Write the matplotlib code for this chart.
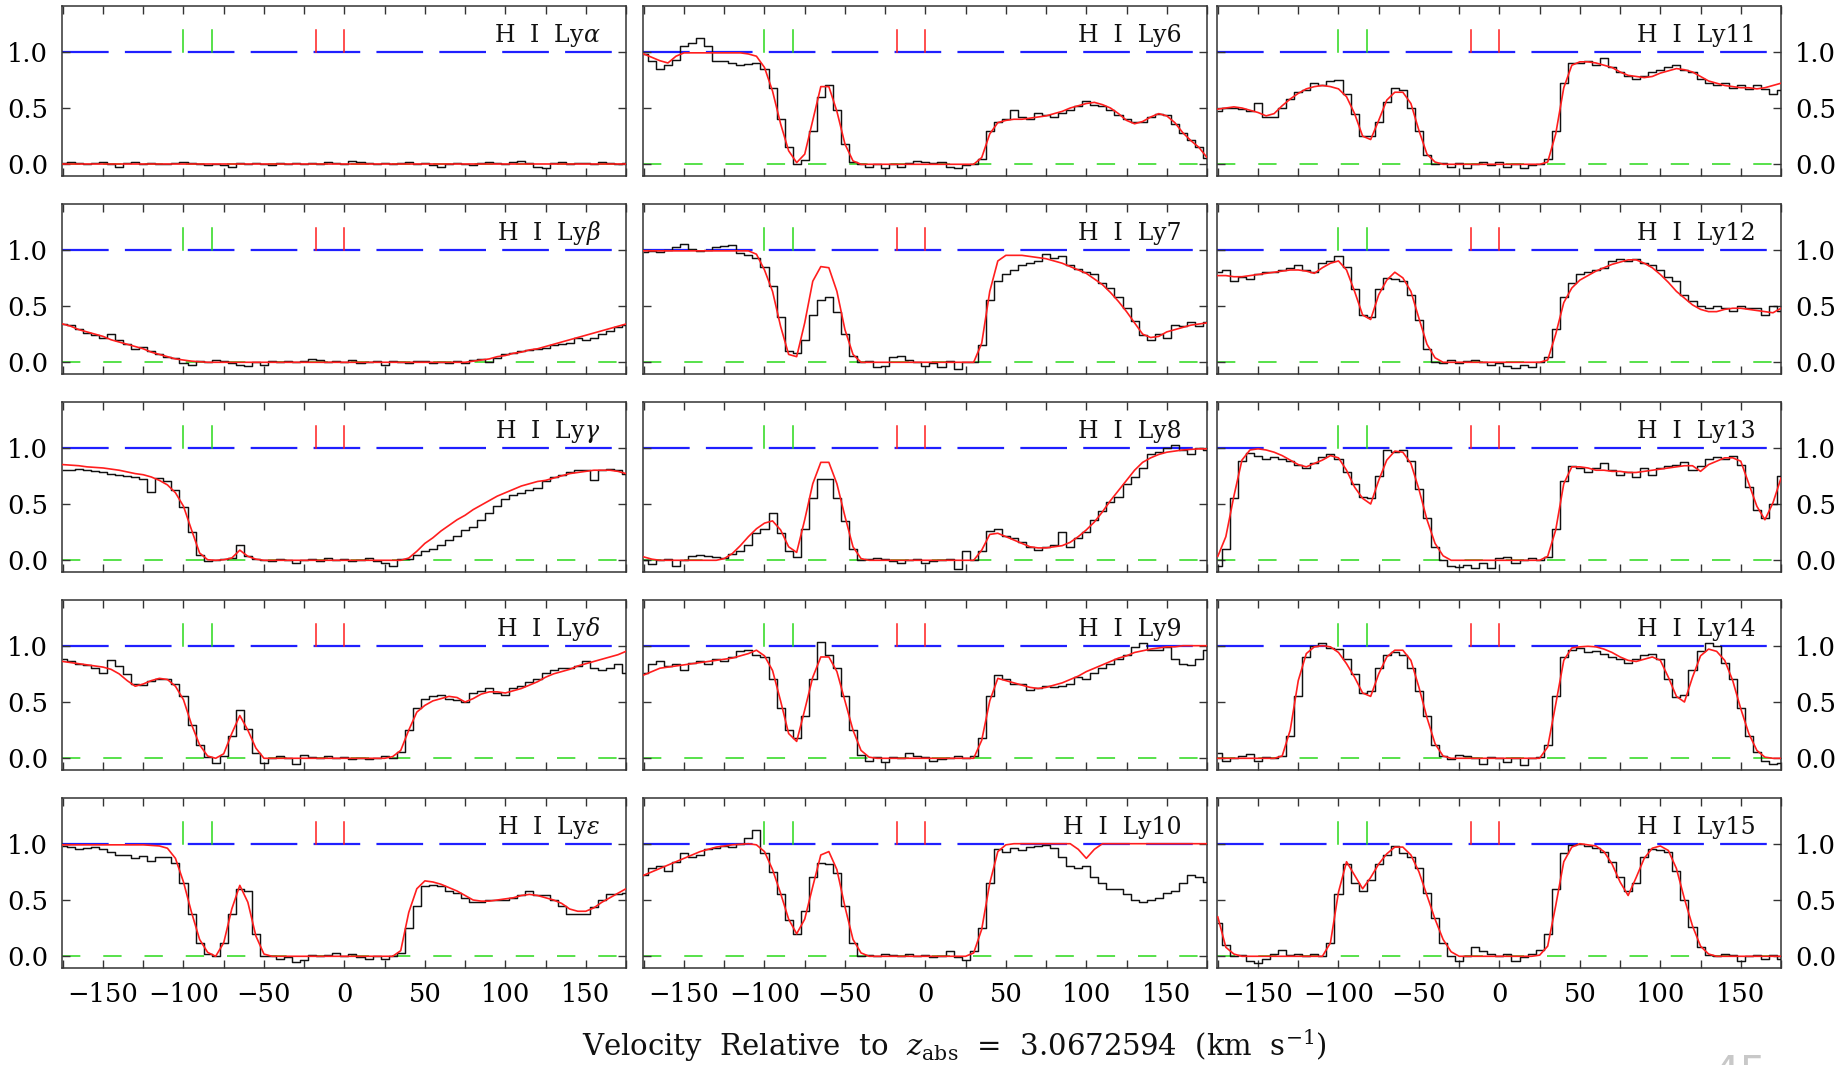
import numpy as np
import matplotlib
matplotlib.use("Agg")
import matplotlib.pyplot as plt

plt.rcParams['font.family'] = ['DejaVu Serif']
plt.rcParams['mathtext.fontset'] = 'dejavuserif'

# ---------------- data ----------------
velocity = np.arange(-175, 176, 5)  # km/s, 71 bins

panel_labels = [r'H  I  Ly$\alpha$', r'H  I  Ly$\beta$', r'H  I  Ly$\gamma$',
                r'H  I  Ly$\delta$', r'H  I  Ly$\epsilon$',
                'H  I  Ly6', 'H  I  Ly7', 'H  I  Ly8', 'H  I  Ly9', 'H  I  Ly10',
                'H  I  Ly11', 'H  I  Ly12', 'H  I  Ly13', 'H  I  Ly14', 'H  I  Ly15']

green_marks = [-100, -82.5]
red_marks = [-17.5, 0]

x_ticks = [-150, -100, -50, 0, 50, 100, 150]
y_ticks = [0.0, 0.5, 1.0]

flux_lya = [0.01, 0.02, 0.01, 0.0, 0.01, 0.02, 0.0, -0.02, 0.01, 0.02,
            0.0, 0.01, 0.0, 0.0, 0.01, 0.02, 0.01, 0.0, -0.01, 0.0,
            -0.01, -0.02, 0.01, 0.0, 0.01, 0.0, -0.01, 0.01, 0.0, 0.01,
            0.0, 0.01, 0.0, 0.02, 0.01, 0.0, 0.03, 0.02, 0.01, 0.0,
            0.01, 0.0, 0.01, 0.02, 0.0, 0.01, -0.01, -0.02, 0.0, 0.01,
            0.0, -0.01, 0.01, 0.02, 0.01, 0.0, 0.02, 0.03, 0.01, -0.02,
            -0.03, 0.01, 0.02, 0.0, 0.01, 0.01, 0.0, 0.02, 0.01, 0.0,
            0.01]
model_lya = [0.0, 0.0, 0.0, 0.0, 0.0, 0.0, 0.0, 0.0, 0.0, 0.0,
             0.0, 0.0, 0.0, 0.0, 0.0, 0.0, 0.0, 0.0, 0.0, 0.0,
             0.0, 0.0, 0.0, 0.0, 0.0, 0.0, 0.0, 0.0, 0.0, 0.0,
             0.0, 0.0, 0.0, 0.0, 0.0, 0.0, 0.0, 0.0, 0.0, 0.0,
             0.0, 0.0, 0.0, 0.0, 0.0, 0.0, 0.0, 0.0, 0.0, 0.0,
             0.0, 0.0, 0.0, 0.0, 0.0, 0.0, 0.0, 0.0, 0.0, 0.0,
             0.0, 0.0, 0.0, 0.0, 0.0, 0.0, 0.0, 0.0, 0.0, 0.0,
             0.0]

flux_lyb = [0.34, 0.33, 0.30, 0.26, 0.24, 0.22, 0.25, 0.20, 0.16, 0.12,
            0.14, 0.10, 0.07, 0.05, 0.04, -0.01, -0.02, 0.01, 0.0, 0.02,
            0.01, -0.01, -0.02, -0.03, 0.0, -0.02, 0.01, 0.0, 0.01, 0.0,
            0.01, 0.03, 0.02, 0.0, 0.01, 0.0, 0.02, -0.01, 0.0, 0.01,
            -0.02, 0.01, 0.0, -0.01, 0.01, 0.01, -0.01, 0.0, -0.01, 0.01,
            -0.01, 0.02, 0.03, 0.0, 0.04, 0.07, 0.08, 0.10, 0.11, 0.12,
            0.13, 0.15, 0.16, 0.17, 0.22, 0.20, 0.22, 0.25, 0.28, 0.31,
            0.33]
model_lyb = [0.34, 0.32, 0.29, 0.27, 0.25, 0.23, 0.20, 0.18, 0.16, 0.14,
             0.12, 0.09, 0.07, 0.05, 0.03, 0.02, 0.01, 0.005, 0.0, 0.0,
             0.0, 0.0, 0.0, 0.0, 0.0, 0.0, 0.0, 0.0, 0.0, 0.0,
             0.0, 0.0, 0.0, 0.0, 0.0, 0.0, 0.0, 0.0, 0.0, 0.0,
             0.0, 0.0, 0.0, 0.0, 0.0, 0.0, 0.0, 0.0, 0.0, 0.0,
             0.0, 0.01, 0.02, 0.03, 0.05, 0.06, 0.08, 0.09, 0.11, 0.12,
             0.14, 0.16, 0.18, 0.20, 0.22, 0.24, 0.26, 0.28, 0.30, 0.32,
             0.34]

flux_lyg = [0.80, 0.80, 0.81, 0.80, 0.79, 0.78, 0.77, 0.76, 0.75, 0.74,
            0.72, 0.61, 0.73, 0.70, 0.62, 0.47, 0.25, 0.05, -0.01, 0.0,
            0.01, 0.02, 0.14, 0.04, 0.01, 0.0, -0.01, 0.01, 0.0, -0.02,
            0.0, 0.01, -0.01, 0.02, 0.0, 0.01, -0.01, 0.0, 0.02, -0.01,
            -0.02, -0.05, 0.01, 0.01, 0.05, 0.08, 0.10, 0.14, 0.18, 0.22,
            0.27, 0.30, 0.36, 0.42, 0.48, 0.54, 0.58, 0.60, 0.62, 0.64,
            0.70, 0.74, 0.76, 0.78, 0.80, 0.80, 0.71, 0.80, 0.81, 0.80,
            0.77]
model_lyg = [0.85, 0.845, 0.84, 0.83, 0.825, 0.82, 0.81, 0.80, 0.785, 0.77,
             0.76, 0.74, 0.71, 0.67, 0.60, 0.48, 0.27, 0.065, 0.005, 0.0,
             0.005, 0.02, 0.09, 0.035, 0.01, 0.0, 0.0, 0.0, 0.0, 0.0,
             0.0, 0.0, 0.0, 0.0, 0.0, 0.0, 0.0, 0.0, 0.0, 0.0,
             0.0, 0.0, 0.0, 0.02, 0.08, 0.15, 0.20, 0.26, 0.31, 0.36,
             0.40, 0.45, 0.49, 0.53, 0.57, 0.60, 0.63, 0.66, 0.68, 0.70,
             0.71, 0.73, 0.75, 0.77, 0.78, 0.79, 0.80, 0.80, 0.80, 0.79,
             0.77]

flux_lyd = [0.88, 0.86, 0.84, 0.83, 0.80, 0.76, 0.87, 0.82, 0.75, 0.66,
            0.65, 0.69, 0.70, 0.70, 0.66, 0.55, 0.30, 0.12, 0.01, -0.04,
            0.02, 0.20, 0.43, 0.26, 0.05, -0.04, 0.0, 0.02, 0.0, -0.05,
            0.03, 0.01, 0.0, 0.02, 0.0, 0.01, -0.01, 0.0, -0.01, 0.0,
            0.02, 0.0, 0.06, 0.25, 0.45, 0.53, 0.55, 0.56, 0.53, 0.52,
            0.50, 0.58, 0.60, 0.62, 0.58, 0.56, 0.62, 0.64, 0.68, 0.70,
            0.76, 0.78, 0.80, 0.80, 0.82, 0.86, 0.80, 0.78, 0.80, 0.84,
            0.76]
model_lyd = [0.86, 0.85, 0.84, 0.83, 0.82, 0.81, 0.79, 0.75, 0.69, 0.64,
             0.66, 0.69, 0.71, 0.70, 0.64, 0.52, 0.30, 0.12, 0.02, 0.0,
             0.04, 0.22, 0.38, 0.25, 0.09, 0.0, 0.0, 0.0, 0.0, 0.0,
             0.0, 0.0, 0.0, 0.0, 0.0, 0.0, 0.0, 0.0, 0.0, 0.0,
             0.0, 0.015, 0.07, 0.25, 0.41, 0.47, 0.51, 0.53, 0.55, 0.54,
             0.50, 0.53, 0.57, 0.59, 0.59, 0.58, 0.60, 0.62, 0.65, 0.68,
             0.72, 0.75, 0.77, 0.79, 0.82, 0.84, 0.86, 0.88, 0.90, 0.92,
             0.95]

flux_lye = [0.98, 0.97, 0.95, 0.96, 0.97, 0.95, 0.93, 0.90, 0.90, 0.87,
            0.89, 0.85, 0.88, 0.88, 0.83, 0.65, 0.38, 0.12, 0.02, 0.0,
            0.12, 0.38, 0.60, 0.58, 0.20, 0.0, 0.0, -0.02, -0.01, -0.05,
            -0.03, 0.01, 0.0, 0.01, 0.03, 0.0, 0.02, -0.01, -0.02, 0.0,
            -0.02, 0.0, 0.03, 0.25, 0.45, 0.62, 0.63, 0.62, 0.58, 0.56,
            0.52, 0.48, 0.48, 0.50, 0.50, 0.50, 0.52, 0.54, 0.58, 0.54,
            0.54, 0.50, 0.45, 0.38, 0.38, 0.38, 0.44, 0.50, 0.55, 0.55,
            0.56]
model_lye = [0.99, 0.99, 0.99, 0.99, 0.99, 0.99, 0.99, 0.99, 0.99, 0.99,
             0.99, 0.985, 0.98, 0.96, 0.87, 0.66, 0.39, 0.15, 0.035, 0.0,
             0.12, 0.42, 0.63, 0.48, 0.18, 0.02, 0.0, 0.0, 0.0, 0.0,
             0.0, 0.0, 0.0, 0.0, 0.0, 0.0, 0.0, 0.0, 0.0, 0.0,
             0.0, 0.0, 0.05, 0.39, 0.60, 0.67, 0.66, 0.64, 0.61, 0.58,
             0.54, 0.50, 0.49, 0.49, 0.50, 0.51, 0.52, 0.54, 0.55, 0.54,
             0.52, 0.50, 0.47, 0.42, 0.40, 0.40, 0.43, 0.48, 0.52, 0.56,
             0.60]

flux_ly6 = [0.98, 0.92, 0.85, 0.88, 0.93, 1.05, 1.08, 1.12, 1.05, 0.92,
            0.92, 0.90, 0.88, 0.89, 0.90, 0.85, 0.68, 0.40, 0.15, 0.0,
            0.04, 0.30, 0.60, 0.70, 0.48, 0.18, 0.02, 0.0, -0.02, 0.0,
            -0.03, 0.0, -0.02, 0.01, 0.03, 0.02, 0.01, 0.02, -0.02, -0.03,
            -0.01, 0.0, 0.05, 0.30, 0.38, 0.40, 0.48, 0.42, 0.40, 0.46,
            0.44, 0.42, 0.46, 0.48, 0.52, 0.56, 0.53, 0.52, 0.48, 0.44,
            0.40, 0.38, 0.38, 0.42, 0.45, 0.44, 0.36, 0.28, 0.22, 0.15,
            0.06]
model_ly6 = [0.98, 0.95, 0.92, 0.90, 0.96, 0.99, 0.99, 0.99, 0.99, 0.99,
             0.99, 0.99, 0.99, 0.98, 0.96, 0.86, 0.65, 0.36, 0.12, 0.015,
             0.09, 0.39, 0.69, 0.69, 0.47, 0.18, 0.03, 0.0, 0.0, 0.0,
             0.0, 0.0, 0.0, 0.0, 0.0, 0.0, 0.0, 0.0, 0.0, 0.0,
             0.0, 0.0, 0.06, 0.27, 0.37, 0.39, 0.40, 0.40, 0.41, 0.42,
             0.43, 0.45, 0.47, 0.50, 0.52, 0.54, 0.55, 0.53, 0.50, 0.45,
             0.39, 0.36, 0.38, 0.42, 0.45, 0.43, 0.37, 0.28, 0.21, 0.15,
             0.06]

flux_ly7 = [0.98, 0.99, 0.98, 1.0, 1.02, 1.05, 1.01, 0.99, 1.0, 1.02,
            1.03, 1.04, 0.97, 0.95, 0.93, 0.85, 0.68, 0.40, 0.10, 0.08,
            0.20, 0.42, 0.55, 0.58, 0.45, 0.25, 0.06, 0.0, 0.01, -0.04,
            -0.03, 0.05, 0.06, 0.02, 0.0, -0.03, -0.01, -0.04, 0.01, -0.06,
            0.0, 0.0, 0.15, 0.55, 0.72, 0.78, 0.82, 0.86, 0.88, 0.90,
            0.96, 0.93, 0.94, 0.86, 0.83, 0.80, 0.78, 0.70, 0.66, 0.58,
            0.48, 0.37, 0.24, 0.20, 0.25, 0.22, 0.33, 0.32, 0.36, 0.32,
            0.36]
model_ly7 = [0.99, 0.99, 0.99, 0.99, 0.99, 0.99, 0.99, 0.99, 0.99, 0.99,
             0.99, 0.99, 0.99, 0.99, 0.96, 0.82, 0.63, 0.32, 0.07, 0.05,
             0.35, 0.72, 0.85, 0.84, 0.63, 0.29, 0.07, 0.0, 0.0, 0.0,
             0.0, 0.0, 0.0, 0.0, 0.0, 0.0, 0.0, 0.0, 0.0, 0.0,
             0.0, 0.0, 0.17, 0.63, 0.90, 0.95, 0.95, 0.95, 0.94, 0.93,
             0.92, 0.90, 0.88, 0.85, 0.82, 0.79, 0.74, 0.69, 0.62, 0.54,
             0.45, 0.35, 0.25, 0.22, 0.23, 0.27, 0.29, 0.31, 0.33, 0.34,
             0.35]

flux_ly8 = [0.0, -0.03, 0.0, 0.01, -0.05, 0.0, 0.04, 0.05, 0.04, 0.03,
            0.02, 0.06, 0.08, 0.14, 0.24, 0.28, 0.42, 0.24, 0.08, 0.03,
            0.28, 0.55, 0.72, 0.72, 0.55, 0.35, 0.10, 0.0, 0.01, 0.02,
            0.01, -0.01, -0.02, 0.0, 0.01, -0.02, -0.01, 0.0, 0.01, -0.08,
            0.08, 0.0, 0.08, 0.26, 0.28, 0.22, 0.20, 0.16, 0.12, 0.09,
            0.12, 0.14, 0.25, 0.12, 0.20, 0.25, 0.36, 0.44, 0.52, 0.56,
            0.68, 0.74, 0.82, 0.94, 0.96, 1.0, 1.02, 0.98, 0.94, 1.0,
            0.98]
model_ly8 = [0.03, 0.01, 0.0, 0.0, 0.0, 0.0, 0.0, 0.0, 0.0, 0.0,
             0.015, 0.06, 0.13, 0.21, 0.28, 0.33, 0.35, 0.27, 0.12, 0.07,
             0.36, 0.68, 0.87, 0.87, 0.68, 0.39, 0.12, 0.015, 0.0, 0.0,
             0.0, 0.0, 0.0, 0.0, 0.0, 0.0, 0.0, 0.0, 0.0, 0.0,
             0.0, 0.0, 0.09, 0.23, 0.24, 0.21, 0.18, 0.15, 0.12, 0.11,
             0.11, 0.12, 0.13, 0.16, 0.21, 0.27, 0.34, 0.43, 0.53, 0.62,
             0.71, 0.80, 0.87, 0.91, 0.94, 0.96, 0.97, 0.98, 0.985, 0.99,
             0.99]

flux_ly9 = [0.76, 0.84, 0.86, 0.82, 0.84, 0.78, 0.85, 0.86, 0.84, 0.88,
            0.86, 0.90, 0.95, 0.96, 0.92, 0.90, 0.70, 0.45, 0.25, 0.18,
            0.38, 0.70, 1.03, 0.92, 0.80, 0.55, 0.25, 0.03, -0.02, 0.01,
            -0.03, 0.01, 0.0, 0.05, 0.02, 0.01, -0.02, -0.01, 0.0, 0.02,
            0.0, 0.02, 0.18, 0.55, 0.74, 0.70, 0.66, 0.66, 0.61, 0.62,
            0.64, 0.63, 0.64, 0.66, 0.72, 0.70, 0.76, 0.80, 0.84, 0.88,
            0.92, 0.99, 1.02, 0.96, 0.96, 0.99, 0.88, 0.84, 0.83, 0.88,
            0.96]
model_ly9 = [0.74, 0.77, 0.80, 0.81, 0.82, 0.83, 0.84, 0.85, 0.86, 0.87,
             0.88, 0.89, 0.91, 0.93, 0.96, 0.91, 0.78, 0.51, 0.22, 0.15,
             0.43, 0.72, 0.90, 0.90, 0.77, 0.51, 0.25, 0.07, 0.01, 0.0,
             0.0, 0.0, 0.0, 0.0, 0.0, 0.0, 0.0, 0.0, 0.0, 0.0,
             0.0, 0.0, 0.16, 0.51, 0.71, 0.69, 0.67, 0.65, 0.63, 0.62,
             0.63, 0.65, 0.67, 0.70, 0.73, 0.77, 0.80, 0.83, 0.86, 0.89,
             0.91, 0.94, 0.955, 0.97, 0.98, 0.99, 0.99, 1.0, 1.0, 1.0,
             1.0]

flux_ly10 = [0.72, 0.78, 0.80, 0.76, 0.84, 0.92, 0.88, 0.90, 0.95, 0.96,
             0.98, 0.97, 1.0, 1.05, 1.12, 0.92, 0.75, 0.55, 0.32, 0.20,
             0.40, 0.70, 0.83, 0.82, 0.74, 0.45, 0.12, 0.0, 0.01, 0.0,
             0.02, 0.01, 0.0, 0.02, 0.0, 0.01, -0.01, 0.0, 0.05, -0.01,
             -0.03, 0.05, 0.25, 0.65, 0.95, 0.93, 0.96, 0.94, 0.97, 0.98,
             0.99, 0.96, 0.88, 0.80, 0.78, 0.80, 0.70, 0.65, 0.60, 0.60,
             0.55, 0.50, 0.48, 0.50, 0.52, 0.56, 0.58, 0.65, 0.72, 0.70,
             0.66]
model_ly10 = [0.72, 0.75, 0.78, 0.81, 0.84, 0.87, 0.90, 0.93, 0.95, 0.97,
              0.98, 0.99, 0.995, 1.0, 0.99, 0.93, 0.77, 0.56, 0.33, 0.20,
              0.33, 0.62, 0.90, 0.93, 0.77, 0.44, 0.15, 0.03, 0.0, 0.0,
              0.0, 0.0, 0.0, 0.0, 0.0, 0.0, 0.0, 0.0, 0.0, 0.0,
              0.0, 0.03, 0.24, 0.65, 0.93, 0.99, 1.0, 1.0, 1.0, 1.0,
              1.0, 1.0, 1.0, 1.0, 0.95, 0.87, 0.95, 1.0, 1.0, 1.0,
              1.0, 1.0, 1.0, 1.0, 1.0, 1.0, 1.0, 1.0, 1.0, 1.0,
              1.0]

flux_ly11 = [0.47, 0.50, 0.50, 0.49, 0.47, 0.54, 0.42, 0.42, 0.50, 0.58,
             0.64, 0.66, 0.72, 0.70, 0.74, 0.75, 0.62, 0.45, 0.25, 0.25,
             0.38, 0.55, 0.68, 0.66, 0.50, 0.30, 0.08, 0.0, 0.01, -0.02,
             0.01, -0.03, 0.0, 0.02, -0.01, 0.02, -0.02, 0.0, -0.03, -0.01,
             0.0, 0.05, 0.30, 0.72, 0.90, 0.90, 0.92, 0.88, 0.94, 0.86,
             0.82, 0.78, 0.76, 0.78, 0.82, 0.84, 0.86, 0.88, 0.84, 0.82,
             0.76, 0.72, 0.70, 0.72, 0.68, 0.70, 0.67, 0.70, 0.67, 0.62,
             0.66]
model_ly11 = [0.49, 0.50, 0.51, 0.50, 0.48, 0.46, 0.43, 0.45, 0.52, 0.58,
              0.63, 0.67, 0.69, 0.70, 0.69, 0.67, 0.60, 0.45, 0.25, 0.22,
              0.39, 0.57, 0.64, 0.64, 0.54, 0.30, 0.09, 0.02, 0.0, 0.0,
              0.0, 0.0, 0.0, 0.0, 0.0, 0.0, 0.0, 0.0, 0.0, 0.0,
              0.0, 0.02, 0.27, 0.68, 0.88, 0.91, 0.91, 0.90, 0.88, 0.86,
              0.82, 0.79, 0.78, 0.77, 0.78, 0.81, 0.83, 0.85, 0.84, 0.82,
              0.78, 0.74, 0.72, 0.70, 0.69, 0.68, 0.68, 0.67, 0.68, 0.70,
              0.72]

flux_ly12 = [0.80, 0.82, 0.72, 0.76, 0.74, 0.78, 0.80, 0.80, 0.82, 0.84,
             0.86, 0.82, 0.80, 0.88, 0.90, 0.94, 0.85, 0.65, 0.42, 0.40,
             0.65, 0.75, 0.74, 0.72, 0.60, 0.38, 0.12, 0.0, -0.01, 0.02,
             -0.01, 0.01, 0.02, 0.0, -0.02, -0.01, -0.03, -0.05, -0.02, -0.04,
             0.0, 0.05, 0.30, 0.58, 0.70, 0.78, 0.80, 0.82, 0.84, 0.90,
             0.92, 0.90, 0.92, 0.88, 0.86, 0.82, 0.76, 0.72, 0.60, 0.54,
             0.50, 0.48, 0.50, 0.48, 0.46, 0.50, 0.48, 0.48, 0.42, 0.50,
             0.46]
model_ly12 = [0.77, 0.77, 0.76, 0.76, 0.77, 0.78, 0.79, 0.80, 0.81, 0.82,
              0.82, 0.81, 0.79, 0.84, 0.88, 0.90, 0.82, 0.63, 0.42, 0.38,
              0.60, 0.73, 0.80, 0.75, 0.63, 0.39, 0.16, 0.04, 0.0, 0.0,
              0.0, 0.0, 0.0, 0.0, 0.0, 0.0, 0.0, 0.0, 0.0, 0.0,
              0.0, 0.02, 0.25, 0.53, 0.66, 0.73, 0.77, 0.81, 0.84, 0.87,
              0.89, 0.91, 0.91, 0.88, 0.84, 0.78, 0.71, 0.63, 0.57, 0.51,
              0.47, 0.45, 0.45, 0.47, 0.48, 0.48, 0.47, 0.46, 0.45, 0.44,
              0.48]

flux_ly13 = [-0.05, 0.10, 0.55, 0.88, 0.95, 0.93, 0.90, 0.92, 0.90, 0.88,
             0.85, 0.82, 0.86, 0.92, 0.94, 0.90, 0.78, 0.68, 0.56, 0.55,
             0.75, 0.98, 0.96, 0.98, 0.88, 0.63, 0.38, 0.12, 0.0, -0.05,
             -0.06, -0.04, -0.07, -0.02, -0.07, 0.02, 0.03, -0.02, 0.0, 0.02,
             0.0, 0.03, 0.28, 0.70, 0.84, 0.82, 0.78, 0.82, 0.86, 0.80,
             0.76, 0.78, 0.74, 0.82, 0.76, 0.82, 0.84, 0.85, 0.87, 0.80,
             0.84, 0.90, 0.92, 0.90, 0.93, 0.85, 0.65, 0.45, 0.38, 0.50,
             0.75]
model_ly13 = [0.035, 0.21, 0.57, 0.89, 0.98, 0.99, 0.98, 0.96, 0.93, 0.89,
              0.85, 0.83, 0.86, 0.89, 0.93, 0.91, 0.80, 0.65, 0.55, 0.50,
              0.71, 0.89, 0.97, 0.96, 0.86, 0.63, 0.36, 0.15, 0.04, 0.0,
              0.0, 0.0, 0.0, 0.0, 0.0, 0.0, 0.0, 0.0, 0.0, 0.0,
              0.0, 0.035, 0.27, 0.68, 0.83, 0.83, 0.82, 0.80, 0.80, 0.79,
              0.79, 0.78, 0.78, 0.79, 0.80, 0.81, 0.82, 0.83, 0.84, 0.84,
              0.79, 0.85, 0.88, 0.91, 0.91, 0.88, 0.68, 0.48, 0.36, 0.51,
              0.73]

flux_ly14 = [0.05, -0.02, 0.0, 0.02, 0.04, -0.02, 0.01, 0.0, 0.02, 0.20,
             0.55, 0.90, 1.0, 1.02, 0.98, 0.97, 0.88, 0.75, 0.58, 0.60,
             0.80, 0.92, 0.94, 0.92, 0.80, 0.60, 0.38, 0.12, 0.02, -0.01,
             0.03, 0.02, 0.0, -0.05, 0.01, 0.0, -0.03, 0.0, -0.06, 0.0,
             0.01, 0.12, 0.55, 0.90, 0.96, 0.98, 0.94, 0.95, 0.93, 0.90,
             0.88, 0.85, 0.88, 0.92, 0.93, 0.88, 0.70, 0.54, 0.56, 0.78,
             0.95, 1.02, 1.0, 0.85, 0.70, 0.45, 0.20, 0.06, -0.02, -0.05,
             -0.04]
model_ly14 = [0.0, 0.0, 0.0, 0.0, 0.0, 0.0, 0.0, 0.0, 0.02, 0.25,
              0.69, 0.93, 0.99, 1.0, 0.99, 0.94, 0.84, 0.72, 0.58, 0.55,
              0.75, 0.90, 0.96, 0.96, 0.87, 0.63, 0.36, 0.13, 0.02, 0.0,
              0.0, 0.0, 0.0, 0.0, 0.0, 0.0, 0.0, 0.0, 0.0, 0.0,
              0.0, 0.10, 0.48, 0.87, 0.98, 0.99, 0.995, 0.99, 0.97, 0.94,
              0.90, 0.87, 0.86, 0.88, 0.90, 0.87, 0.72, 0.55, 0.50, 0.72,
              0.91, 0.97, 0.95, 0.87, 0.69, 0.44, 0.22, 0.07, 0.01, 0.0,
              0.0]

flux_ly15 = [0.30, 0.10, 0.0, 0.01, -0.04, -0.06, -0.02, 0.02, 0.06, 0.01,
             0.02, 0.0, 0.02, 0.0, 0.12, 0.55, 0.82, 0.65, 0.58, 0.68,
             0.82, 0.90, 0.98, 0.92, 0.88, 0.78, 0.56, 0.34, 0.12, 0.0,
             -0.04, 0.0, 0.08, 0.05, 0.02, 0.0, 0.02, -0.04, -0.01, 0.02,
             0.06, 0.20, 0.60, 0.92, 0.99, 1.0, 0.98, 0.96, 0.93, 0.84,
             0.70, 0.58, 0.65, 0.88, 0.95, 0.94, 0.93, 0.76, 0.50, 0.26,
             0.08, 0.01, 0.0, 0.02, 0.01, -0.04, 0.0, 0.01, -0.02, 0.01,
             -0.02]
model_ly15 = [0.35, 0.08, 0.02, 0.0, 0.0, 0.0, 0.0, 0.0, 0.0, 0.0,
              0.0, 0.0, 0.0, 0.0, 0.12, 0.57, 0.84, 0.72, 0.60, 0.70,
              0.82, 0.91, 0.97, 0.97, 0.90, 0.75, 0.54, 0.33, 0.15, 0.04,
              0.0, 0.0, 0.0, 0.0, 0.0, 0.0, 0.0, 0.0, 0.0, 0.0,
              0.01, 0.09, 0.45, 0.84, 0.97, 1.0, 0.99, 0.98, 0.93, 0.82,
              0.66, 0.54, 0.70, 0.87, 0.96, 0.98, 0.94, 0.78, 0.51, 0.27,
              0.09, 0.02, 0.0, 0.0, 0.0, 0.0, 0.0, 0.0, 0.0, 0.0,
              0.0]

fluxes = [flux_lya, flux_lyb, flux_lyg, flux_lyd, flux_lye,
          flux_ly6, flux_ly7, flux_ly8, flux_ly9, flux_ly10,
          flux_ly11, flux_ly12, flux_ly13, flux_ly14, flux_ly15]
models = [model_lya, model_lyb, model_lyg, model_lyd, model_lye,
          model_ly6, model_ly7, model_ly8, model_ly9, model_ly10,
          model_ly11, model_ly12, model_ly13, model_ly14, model_ly15]

for f, m, lab in zip(fluxes, models, panel_labels):
    assert len(f) == len(velocity), (lab, 'flux', len(f))
    assert len(m) == len(velocity), (lab, 'model', len(m))

# ---------------- figure ----------------
W, H = 1842, 1065
fig = plt.figure(figsize=(W / 100, H / 100), dpi=100)

col_left_px = [62, 643, 1217]
row_top_px = [6, 204, 402, 600, 798]
panel_w_px, panel_h_px = 564, 170

BLUE = '#1f1fff'
GREEN = '#2ad81a'
RED = '#ff1e1e'

for idx in range(15):
    col, row = divmod(idx, 5)
    left = col_left_px[col] / W
    bottom = 1 - (row_top_px[row] + panel_h_px) / H
    ax = fig.add_axes([left, bottom, panel_w_px / W, panel_h_px / H])

    ax.axhline(1.0, color=BLUE, lw=1.6, ls=(0, (21, 7.3)), zorder=1)
    ax.axhline(0.0, color=GREEN, lw=1.1, ls=(0, (12, 15)), zorder=1)
    for g in green_marks:
        ax.plot([g, g], [1.0, 1.19], color=GREEN, lw=1.1, zorder=2)
    for r in red_marks:
        ax.plot([r, r], [1.0, 1.19], color=RED, lw=1.1, zorder=2)

    ax.step(velocity, fluxes[idx], where='mid', color='#111111', lw=1.05, zorder=3)
    ax.plot(velocity, models[idx], color=RED, lw=1.2, zorder=4)

    ax.text(159, 1.085, panel_labels[idx], ha='right', va='baseline',
            fontsize=17, color='#111111', zorder=5)

    ax.set_xlim(-175.5, 175)
    ax.set_ylim(-0.104, 1.406)
    ax.set_xticks(x_ticks)
    ax.set_xticks(np.arange(-175, 176, 25), minor=True)
    ax.set_yticks(y_ticks)
    ax.tick_params(which='both', direction='in', top=True, bottom=True,
                   left=True, right=True, length=5.5, width=1.0,
                   color='#333333', labelsize=18.5)
    ax.tick_params(axis='x', pad=10)
    ax.tick_params(axis='y', pad=10)
    for sp in ax.spines.values():
        sp.set_linewidth(1.1)
        sp.set_color('#333333')

    if row == 4:
        ax.set_xticklabels([f'{t:d}'.replace('-', '\u2212') for t in x_ticks])
    else:
        ax.set_xticklabels([])
    if col == 0:
        ax.set_yticklabels([f'{t:.1f}' for t in y_ticks])
    elif col == 2:
        ax.yaxis.tick_right()
        ax.tick_params(axis='y', which='both', left=True, right=True,
                       labelleft=False, labelright=True)
        ax.set_yticklabels([f'{t:.1f}' for t in y_ticks])
    else:
        ax.set_yticklabels([])

fig.text(954 / W, 1 - 1046 / H,
         r'Velocity  Relative  to  $z_{\rm abs}$  =  3.0672594  (km  s$^{-1}$)',
         ha='center', va='center', fontsize=21, color='#111111')

fig.text(1740 / W, 1 - 1052 / H, '45', ha='center', va='top',
         fontsize=31, color='#c8c8c8', family='DejaVu Sans')

fig.savefig('out.png', dpi=100)
